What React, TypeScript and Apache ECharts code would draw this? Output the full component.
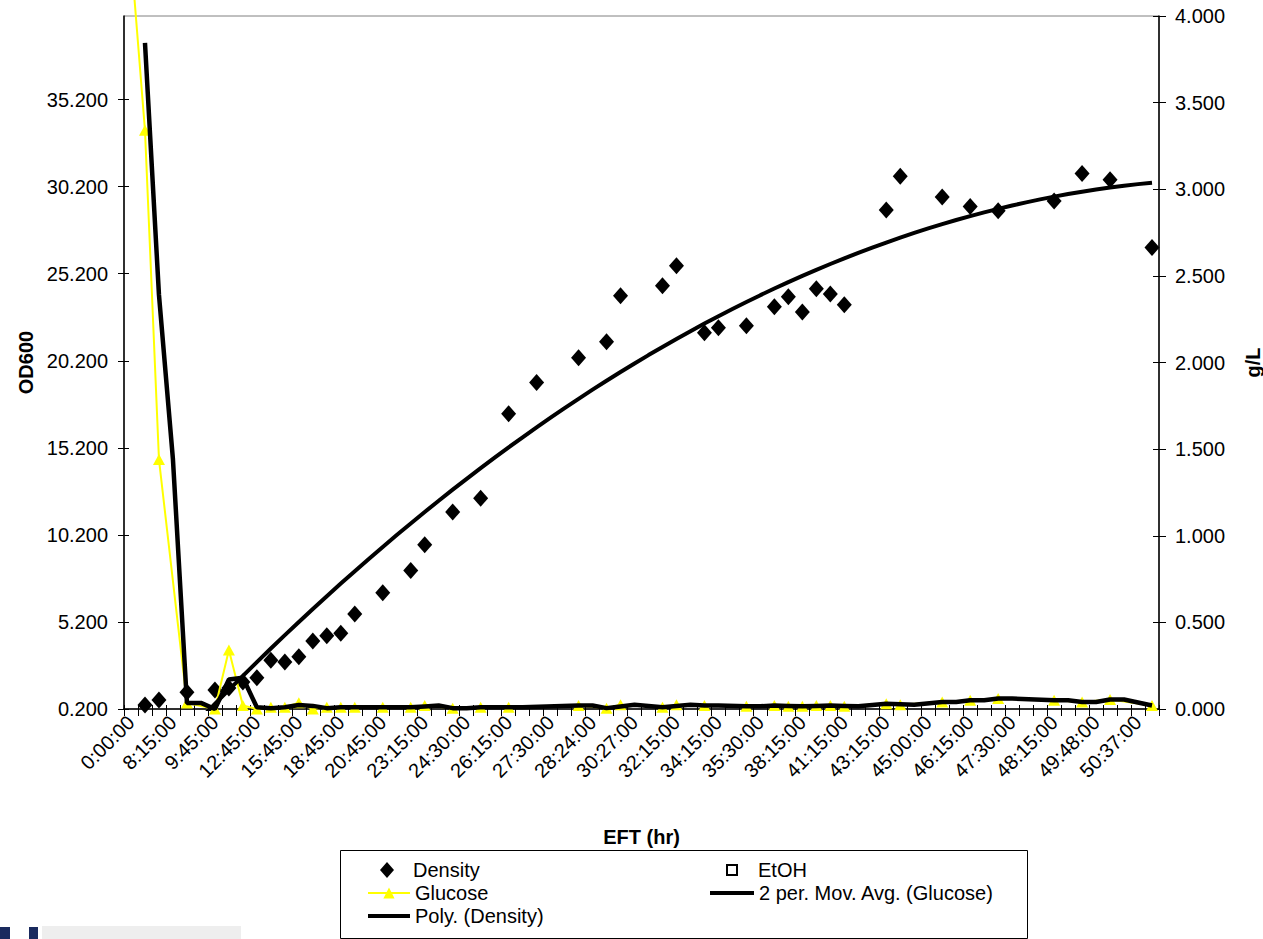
import React, { useEffect, useRef } from "react";
import * as echarts from "echarts";

// ---- data ----
const CATEGORY_COUNT = 74;
// every third category carries a label (the others are not printed)
const tickLabels = [
  "0:00:00", "8:15:00", "9:45:00", "12:45:00", "15:45:00", "18:45:00", "20:45:00",
  "23:15:00", "24:30:00", "26:15:00", "27:30:00", "28:24:00", "30:27:00", "32:15:00",
  "34:15:00", "35:30:00", "38:15:00", "41:15:00", "43:15:00", "45:00:00", "46:15:00",
  "47:30:00", "48:15:00", "49:48:00", "50:37:00",
];
const categories: string[] = Array.from({ length: CATEGORY_COUNT }, (_, i) =>
  i % 3 === 0 && tickLabels[i / 3] !== undefined ? tickLabels[i / 3] : ""
);

// left axis (OD600) tick values, right axis (g/L) tick values
const leftTicks = [0.2, 5.2, 10.2, 15.2, 20.2, 25.2, 30.2, 35.2];
const rightTicks = [0, 0.5, 1, 1.5, 2, 2.5, 3, 3.5, 4];

// OD600 (left axis), one entry per category, null = no sample
const density: (number | null)[] = [
  null, 0.43, 0.72, null, 1.16, null, 1.29, 1.4, 1.75, 2.0,
  3.0, 2.9, 3.2, 4.1, 4.4, 4.55, 5.66, null, 6.87, null,
  8.15, 9.63, null, 11.52, null, 12.3, null, 17.15, null, 18.95,
  null, null, 20.37, null, 21.29, 23.94, null, null, 24.51, 25.66,
  null, 21.81, 22.1, null, 22.21, null, 23.3, 23.88, 23.0, 24.34,
  24.04, 23.42, null, null, 28.86, 30.8, null, null, 29.61, null,
  29.06, null, 28.82, null, null, null, 29.37, null, 30.95, null,
  30.6, null, null, 26.7,
];

// Glucose g/L (right axis)
const glucose: (number | null)[] = [
  4.35, 3.34, 1.44, null, 0.035, null, 0.0, 0.34, 0.02, 0.0,
  0.01, 0.01, 0.036, 0.0, 0.01, 0.01, 0.01, null, 0.01, null,
  0.01, 0.02, null, 0.005, null, 0.01, null, 0.01, null, null,
  null, null, 0.02, null, 0.005, 0.024, null, null, 0.01, 0.024,
  null, 0.02, null, null, 0.016, null, 0.02, 0.016, 0.016, 0.02,
  0.02, 0.016, null, null, 0.03, 0.024, null, null, 0.04, null,
  0.05, null, 0.06, null, null, null, 0.05, null, 0.04, null,
  0.055, null, null, 0.02,
];

// EtOH g/L: no visible values in the chart
const etoh: (number | null)[] = [];

// ---- derived series (trendlines, as the spreadsheet computes them) ----
function quadraticFit(pts: [number, number][]) {
  let n = 0, sx = 0, sx2 = 0, sx3 = 0, sx4 = 0, sy = 0, sxy = 0, sx2y = 0;
  for (const [x, y] of pts) {
    n += 1; sx += x; sx2 += x * x; sx3 += x * x * x; sx4 += x * x * x * x;
    sy += y; sxy += x * y; sx2y += x * x * y;
  }
  const det3 = (m: number[][]) =>
    m[0][0] * (m[1][1] * m[2][2] - m[1][2] * m[2][1]) -
    m[0][1] * (m[1][0] * m[2][2] - m[1][2] * m[2][0]) +
    m[0][2] * (m[1][0] * m[2][1] - m[1][1] * m[2][0]);
  const M = [[n, sx, sx2], [sx, sx2, sx3], [sx2, sx3, sx4]];
  const R = [sy, sxy, sx2y];
  const D = det3(M);
  const col = (k: number) => M.map((row, r) => row.map((v, c) => (c === k ? R[r] : v)));
  return [det3(col(0)) / D, det3(col(1)) / D, det3(col(2)) / D];
}

const densityPts: [number, number][] = [];
density.forEach((v, i) => { if (v !== null) densityPts.push([i + 1, v]); });
const [qa, qb, qc] = quadraticFit(densityPts);
const firstIdx = densityPts[0][0] - 1;
const lastIdx = densityPts[densityPts.length - 1][0] - 1;
const polyTrend: (number | null)[] = categories.map((_, i) => {
  if (i < firstIdx || i > lastIdx) return null;
  const x = i + 1;
  return qa + qb * x + qc * x * x;
});

const movAvg: (number | null)[] = categories.map((_, i) => {
  if (i === 0) return null;
  const win = [glucose[i - 1], glucose[i]].filter((v) => v !== null && v !== undefined) as number[];
  if (!win.length) return null;
  return win.reduce((s, v) => s + v, 0) / win.length;
});

const FONT = "'Liberation Sans', Arial, Helvetica, sans-serif";

export default function App() {
  const ref = useRef<HTMLDivElement>(null);
  useEffect(() => {
    if (!ref.current) return;
    const chart = echarts.init(ref.current, undefined, { renderer: "svg" });
    const legendText = { fontSize: 20, color: "#000", fontFamily: FONT };
    const hiddenSymbol = { opacity: 0 };
    const legendBase = {
      orient: "vertical", padding: 0, itemGap: 3, selectedMode: false,
      symbolKeepAspect: true, textStyle: legendText,
    };
    const noLabel = { show: false };
    chart.setOption({
      animation: false,
      backgroundColor: "#ffffff",
      textStyle: { fontFamily: FONT },
      grid: {
        left: 124, top: 16, width: 1035, height: 693,
        outerBoundsMode: "none",
        containLabel: false,
        show: true, borderColor: "#808080", borderWidth: 1, backgroundColor: "transparent",
      },
      legend: [
        {
          ...legendBase,
          data: [{ name: "Density", icon: "diamond" }],
          left: 380, top: 860, itemWidth: 14, itemHeight: 16,
          textStyle: { ...legendText, padding: [0, 0, 0, 14] },
        },
        {
          ...legendBase,
          data: [
            { name: "Glucose", lineStyle: { width: 2 } },
            { name: "Poly. (Density)", itemStyle: hiddenSymbol, lineStyle: { width: 4 } },
          ],
          left: 366, top: 883, itemWidth: 42, itemHeight: 14,
        },
        {
          ...legendBase,
          data: [{ name: "EtOH", icon: "rect" }],
          left: 726, top: 860, itemWidth: 10, itemHeight: 10,
          textStyle: { ...legendText, padding: [0, 0, 0, 16] },
        },
        {
          ...legendBase,
          data: [{ name: "2 per. Mov. Avg. (Glucose)", itemStyle: hiddenSymbol, lineStyle: { width: 4 } }],
          left: 708, top: 883, itemWidth: 44, itemHeight: 14,
        },
      ],
      xAxis: [
        {
          type: "category",
          data: categories,
          boundaryGap: true,
          axisLine: { lineStyle: { color: "#000", width: 1.5 } },
          axisTick: { show: true, interval: 0, length: 7, lineStyle: { color: "#000", width: 1 } },
          axisLabel: { interval: 2, rotate: 45, fontSize: 20, color: "#000", margin: 10, fontFamily: FONT },
          splitLine: { show: false },
          name: "EFT (hr)",
          nameLocation: "middle",
          nameGap: 118,
          nameTextStyle: { fontWeight: "bold", fontSize: 20, color: "#000", fontFamily: FONT },
        },
        {
          // inner half of the crossing tick marks
          type: "category", data: categories, boundaryGap: true, position: "bottom",
          axisLine: { show: false },
          axisTick: { show: true, inside: true, interval: 0, length: 4, lineStyle: { color: "#000", width: 1 } },
          axisLabel: noLabel, splitLine: { show: false },
        },
      ],
      yAxis: [
        {
          type: "value", position: "left", min: 0.2, max: 40,
          axisLine: { show: true, lineStyle: { color: "#000", width: 1.5 } },
          axisTick: { show: true, length: 6, customValues: leftTicks, lineStyle: { color: "#000" } },
          axisLabel: {
            fontSize: 20, color: "#000", margin: 16, fontFamily: FONT,
            customValues: leftTicks,
            formatter: (v: number) => v.toFixed(3),
          },
          splitLine: { show: false },
          name: "OD600", nameLocation: "middle", nameGap: 85, nameRotate: 90,
          nameTextStyle: { fontWeight: "bold", fontSize: 20, color: "#000", fontFamily: FONT },
        },
        {
          type: "value", position: "right", min: 0, max: 4,
          axisLine: { show: true, lineStyle: { color: "#000", width: 1.5 } },
          axisTick: { show: true, length: 7, customValues: rightTicks, lineStyle: { color: "#000" } },
          axisLabel: {
            fontSize: 20, color: "#000", margin: 16, fontFamily: FONT,
            customValues: rightTicks,
            formatter: (v: number) => v.toFixed(3),
          },
          splitLine: { show: false },
          name: "g/L", nameLocation: "middle", nameGap: 84, nameRotate: 90,
          nameTextStyle: { fontWeight: "bold", fontSize: 20, color: "#000", fontFamily: FONT },
        },
        {
          type: "value", position: "left", min: 0.2, max: 40,
          axisLine: { show: false },
          axisTick: { show: true, inside: true, length: 5, customValues: leftTicks, lineStyle: { color: "#000" } },
          axisLabel: noLabel, splitLine: { show: false },
        },
        {
          type: "value", position: "right", min: 0, max: 4,
          axisLine: { show: false },
          axisTick: { show: true, inside: true, length: 6, customValues: rightTicks, lineStyle: { color: "#000" } },
          axisLabel: noLabel, splitLine: { show: false },
        },
      ],
      series: [
        {
          name: "Density", type: "scatter", yAxisIndex: 0,
          symbol: "diamond", symbolSize: [15, 17],
          itemStyle: { color: "#000", opacity: 1 },
          data: density.map((v, i) => (v === null ? null : [i, v])).filter((d) => d !== null),
          z: 3,
        },
        {
          name: "EtOH", type: "scatter", yAxisIndex: 1,
          symbol: "rect", symbolSize: 11,
          itemStyle: { color: "#fff", borderColor: "#000", borderWidth: 2, opacity: 1 },
          data: etoh.map((v, i) => (v === null ? null : [i, v])).filter((d) => d !== null),
        },
        {
          name: "Glucose", type: "line", yAxisIndex: 1,
          data: glucose, connectNulls: true, clip: false,
          symbol: "triangle", symbolSize: [12, 11], showAllSymbol: true,
          lineStyle: { color: "#FFFF00", width: 2 },
          itemStyle: { color: "#FFFF00" },
          z: 4,
        },
        {
          name: "2 per. Mov. Avg. (Glucose)", type: "line", yAxisIndex: 1,
          data: movAvg, connectNulls: true, symbol: "none",
          lineStyle: { color: "#000", width: 4.5 },
          itemStyle: { color: "#000" },
          z: 5,
        },
        {
          name: "Poly. (Density)", type: "line", yAxisIndex: 0,
          data: polyTrend, connectNulls: true, symbol: "none", clip: true,
          lineStyle: { color: "#000", width: 4 },
          itemStyle: { color: "#000" },
          z: 5,
        },
      ],
      graphic: [
        {
          type: "rect", left: 340, top: 850, z: 0,
          shape: { width: 687, height: 88 },
          style: { fill: "#fff", stroke: "#000", lineWidth: 1 },
        },
        { type: "rect", left: 42, top: 926, shape: { width: 199, height: 13 }, style: { fill: "#eeeeee" } },
        { type: "rect", left: 0, top: 927, shape: { width: 10, height: 12 }, style: { fill: "#1a2a5e" } },
        { type: "rect", left: 29, top: 927, shape: { width: 9, height: 12 }, style: { fill: "#1a2a5e" } },
      ],
    });
    return () => chart.dispose();
  }, []);
  return (
    <div
      ref={ref}
      style={{ position: "absolute", left: 0, top: 0, width: 1263, height: 939, background: "#fff" }}
    />
  );
}
